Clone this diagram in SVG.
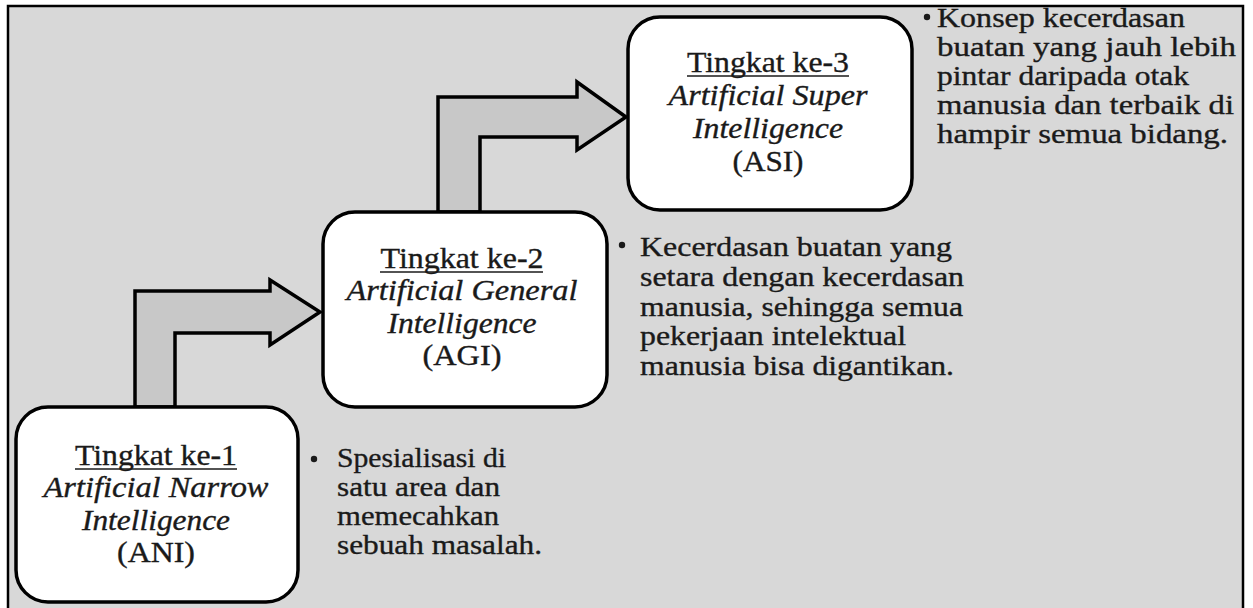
<svg xmlns="http://www.w3.org/2000/svg" width="1253" height="608" viewBox="0 0 1253 608" font-family="'Liberation Serif', 'Times New Roman', serif">
<style>
.bg{fill:#d8d8d8;stroke:#000;stroke-width:2.5}
.box{fill:#fff;stroke:#000;stroke-width:3.5}
.arrow{fill:#c8c8c8;stroke:#000;stroke-width:3.5;stroke-linejoin:miter}
text{font-family:'Liberation Serif','Times New Roman',serif;fill:#1a1a1a;stroke:#1a1a1a;stroke-width:0.35}
.t{text-anchor:middle;font-size:29px}
.d{font-size:27px}
.i{font-style:italic}
.ul{stroke:#1a1a1a;stroke-width:1.6}
.dot{fill:#1a1a1a}
</style>
<rect class="bg" x="8" y="6" width="1235" height="610"/>
<g id="connectors">
<polygon class="arrow" points="135,407 135,291 270,291 270,280 320,312 270,345 270,333 175,333 175,407"/>
<polygon class="arrow" points="438,212 438,97 577,97 577,82 626,117 577,150 577,137 480,137 480,212"/>
</g>
<g id="node-ani">
<rect class="box" x="16" y="407" width="282" height="195" rx="32"/>
<text class="t" x="156" y="465" textLength="162" lengthAdjust="spacingAndGlyphs">Tingkat ke-1</text>
<line class="ul" x1="75" y1="469" x2="237" y2="469"/>
<text class="t i" x="156" y="497" textLength="225" lengthAdjust="spacingAndGlyphs">Artificial Narrow</text>
<text class="t i" x="156" y="530" textLength="148" lengthAdjust="spacingAndGlyphs">Intelligence</text>
<text class="t" x="156" y="562" textLength="78" lengthAdjust="spacingAndGlyphs">(ANI)</text>
</g>
<g id="node-agi">
<rect class="box" x="323" y="212" width="284" height="195" rx="32"/>
<text class="t" x="462" y="268" textLength="163" lengthAdjust="spacingAndGlyphs">Tingkat ke-2</text>
<line class="ul" x1="380" y1="272" x2="543" y2="272"/>
<text class="t i" x="462" y="300" textLength="231" lengthAdjust="spacingAndGlyphs">Artificial General</text>
<text class="t i" x="462" y="333" textLength="149" lengthAdjust="spacingAndGlyphs">Intelligence</text>
<text class="t" x="462" y="365" textLength="79" lengthAdjust="spacingAndGlyphs">(AGI)</text>
</g>
<g id="node-asi">
<rect class="box" x="628" y="17" width="284" height="193" rx="32"/>
<text class="t" x="768" y="72" textLength="162" lengthAdjust="spacingAndGlyphs">Tingkat ke-3</text>
<line class="ul" x1="687" y1="76" x2="849" y2="76"/>
<text class="t i" x="768" y="105" textLength="199" lengthAdjust="spacingAndGlyphs">Artificial Super</text>
<text class="t i" x="768" y="138" textLength="150" lengthAdjust="spacingAndGlyphs">Intelligence</text>
<text class="t" x="768" y="171" textLength="71" lengthAdjust="spacingAndGlyphs">(ASI)</text>
</g>
<g id="desc-ani">
<circle class="dot" cx="314" cy="459" r="3.2"/>
<text class="d" x="337" y="467" textLength="169" lengthAdjust="spacingAndGlyphs">Spesialisasi di</text>
<text class="d" x="337" y="496" textLength="163" lengthAdjust="spacingAndGlyphs">satu area dan</text>
<text class="d" x="337" y="525" textLength="162" lengthAdjust="spacingAndGlyphs">memecahkan</text>
<text class="d" x="337" y="554" textLength="205" lengthAdjust="spacingAndGlyphs">sebuah masalah.</text>
</g>
<g id="desc-agi">
<circle class="dot" cx="622" cy="245" r="3.2"/>
<text class="d" x="640" y="256" textLength="312" lengthAdjust="spacingAndGlyphs">Kecerdasan buatan yang</text>
<text class="d" x="640" y="286" textLength="324" lengthAdjust="spacingAndGlyphs">setara dengan kecerdasan</text>
<text class="d" x="640" y="316" textLength="323" lengthAdjust="spacingAndGlyphs">manusia, sehingga semua</text>
<text class="d" x="640" y="345" textLength="266" lengthAdjust="spacingAndGlyphs">pekerjaan intelektual</text>
<text class="d" x="640" y="375" textLength="314" lengthAdjust="spacingAndGlyphs">manusia bisa digantikan.</text>
</g>
<g id="desc-asi">
<circle class="dot" cx="927" cy="17" r="3.2"/>
<text class="d" x="937" y="27" textLength="248" lengthAdjust="spacingAndGlyphs">Konsep kecerdasan</text>
<text class="d" x="937" y="56" textLength="299" lengthAdjust="spacingAndGlyphs">buatan yang jauh lebih</text>
<text class="d" x="937" y="85" textLength="252" lengthAdjust="spacingAndGlyphs">pintar daripada otak</text>
<text class="d" x="937" y="114" textLength="297" lengthAdjust="spacingAndGlyphs">manusia dan terbaik di</text>
<text class="d" x="937" y="143" textLength="291" lengthAdjust="spacingAndGlyphs">hampir semua bidang.</text>
</g>
</svg>
